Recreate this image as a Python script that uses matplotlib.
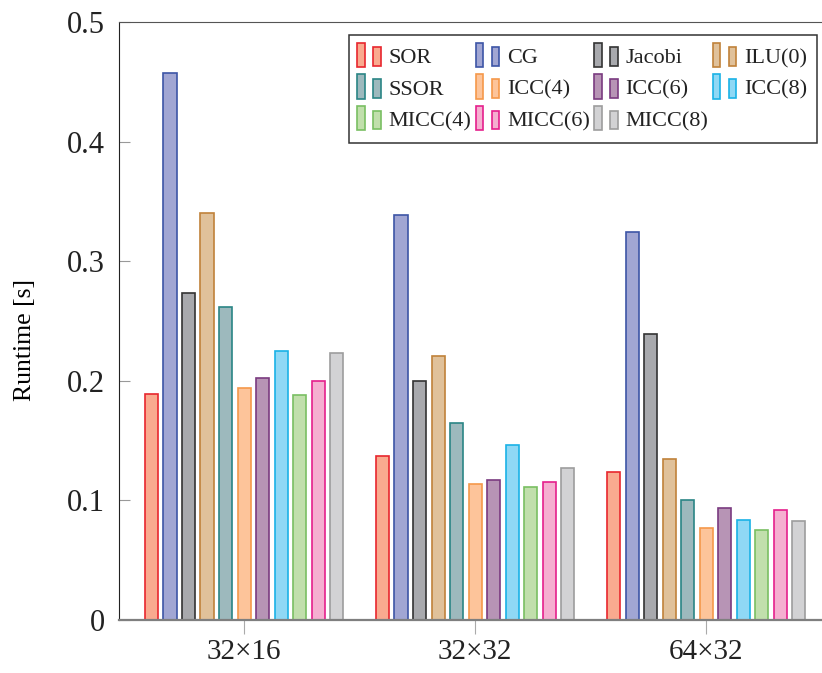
import matplotlib
matplotlib.use('Agg')
import matplotlib.pyplot as plt
import numpy as np
from matplotlib.patches import Rectangle
from matplotlib.legend_handler import HandlerBase

# 数据：三种网格规模下各预条件子的运行时间
groups = ['32×16', '32×32', '64×32']
methods = ['SOR', 'CG', 'Jacobi', 'ILU(0)', 'SSOR', 'ICC(4)', 'ICC(6)', 'ICC(8)',
           'MICC(4)', 'MICC(6)', 'MICC(8)']
sor = [0.189, 0.137, 0.124]
cg = [0.457, 0.339, 0.324]
jacobi = [0.273, 0.200, 0.239]
ilu0 = [0.340, 0.221, 0.135]
ssor = [0.262, 0.165, 0.100]
icc4 = [0.194, 0.114, 0.077]
icc6 = [0.202, 0.117, 0.094]
icc8 = [0.225, 0.146, 0.084]
micc4 = [0.188, 0.111, 0.075]
micc6 = [0.200, 0.115, 0.092]
micc8 = [0.223, 0.127, 0.083]
runtimes = [sor, cg, jacobi, ilu0, ssor, icc4, icc6, icc8, micc4, micc6, micc8]

edge_colors = ['#e8262e', '#3d55a6', '#333333', '#c0823a', '#2a8585', '#f5984a',
               '#7a3b80', '#1ab2e6', '#79bf62', '#e5208c', '#9d9d9d']
fill_colors = ['#f9aa8f', '#a1a6d3', '#a8a9ad', '#e0c19a', '#9db9bd', '#fdc49a',
               '#b794b5', '#8fd8f5', '#c1dfac', '#f5afd0', '#d2d2d4']


class TwoBarHandler(HandlerBase):
    # 仿照 pgfplots ybar 图例：两个小柱子
    def create_artists(self, legend, orig_handle, xdescent, ydescent, width, height,
                       fontsize, trans):
        fc = orig_handle.get_facecolor()
        ec = orig_handle.get_edgecolor()
        w = width * 0.3
        r1 = Rectangle((-xdescent, -ydescent - height * 0.25), w, height * 1.55,
                       facecolor=fc, edgecolor=ec, lw=1.2, transform=trans)
        r2 = Rectangle((-xdescent + width * 0.65, -ydescent - height * 0.2), w, height * 1.2,
                       facecolor=fc, edgecolor=ec, lw=1.2, transform=trans)
        return [r1, r2]


plt.rcParams['font.family'] = ['Liberation Serif', 'DejaVu Serif']
plt.rcParams['text.color'] = '#222222'

fig = plt.figure(figsize=(8.22, 6.73), dpi=100)
ax = fig.add_axes([119 / 822, 53 / 673, 711.5 / 822, 598 / 673])

x = np.arange(len(groups))
step = 0.0801
width = 0.058
handles = []
for i, vals in enumerate(runtimes):
    bc = ax.bar(x + (i - 5) * step, vals, width, facecolor=fill_colors[i],
                edgecolor=edge_colors[i], linewidth=1.2, zorder=2)
    handles.append(bc.patches[0])

ax.set_xlim(-0.542, 2.538)
ax.set_ylim(0, 0.5)
ax.set_xticks(x)
ax.set_xticklabels(groups, fontsize=21)
ax.set_yticks([0, 0.1, 0.2, 0.3, 0.4, 0.5])
ax.set_yticklabels(['0', '0.1', '0.2', '0.3', '0.4', '0.5'], fontsize=22)
ax.tick_params(axis='y', direction='in', length=8, color='#999999', pad=10, labelcolor='#222222')
ax.tick_params(axis='x', direction='out', length=10, color='#aaaaaa', pad=4, labelcolor='#222222')
ax.set_ylabel('Runtime [s]', fontsize=18.5)
ax.yaxis.set_label_coords(-0.117, 0.468)

ax.spines['left'].set_color('#222222')
ax.spines['top'].set_color('#555555')
ax.spines['bottom'].set_color('#7f7f7f')
ax.spines['bottom'].set_linewidth(1.6)
ax.spines['right'].set_visible(False)

# 图例外框（放在坐标系里，zorder 低于图例）
ax.add_patch(Rectangle((349 / 822, 1 - 143 / 673), 468 / 822, 108 / 673,
                       transform=fig.transFigure, facecolor='white',
                       edgecolor='#333333', lw=1.1, zorder=4, clip_on=False))

# 图例顺序按行排列（matplotlib 按列填充，所以重新排序）
order = [0, 4, 8, 1, 5, 9, 2, 6, 10, 3, 7]
leg = ax.legend([handles[k] for k in order], [methods[k] for k in order], ncol=4,
                loc='upper left', bbox_to_anchor=(353 / 822, 1 - 43 / 673),
                bbox_transform=fig.transFigure, frameon=False, fontsize=16,
                handler_map={Rectangle: TwoBarHandler()}, handlelength=1.1,
                handletextpad=0.3, columnspacing=0.2, labelspacing=0.5,
                borderaxespad=0, borderpad=0.2)
leg.set_zorder(5)

plt.savefig('out.png', dpi=100)
